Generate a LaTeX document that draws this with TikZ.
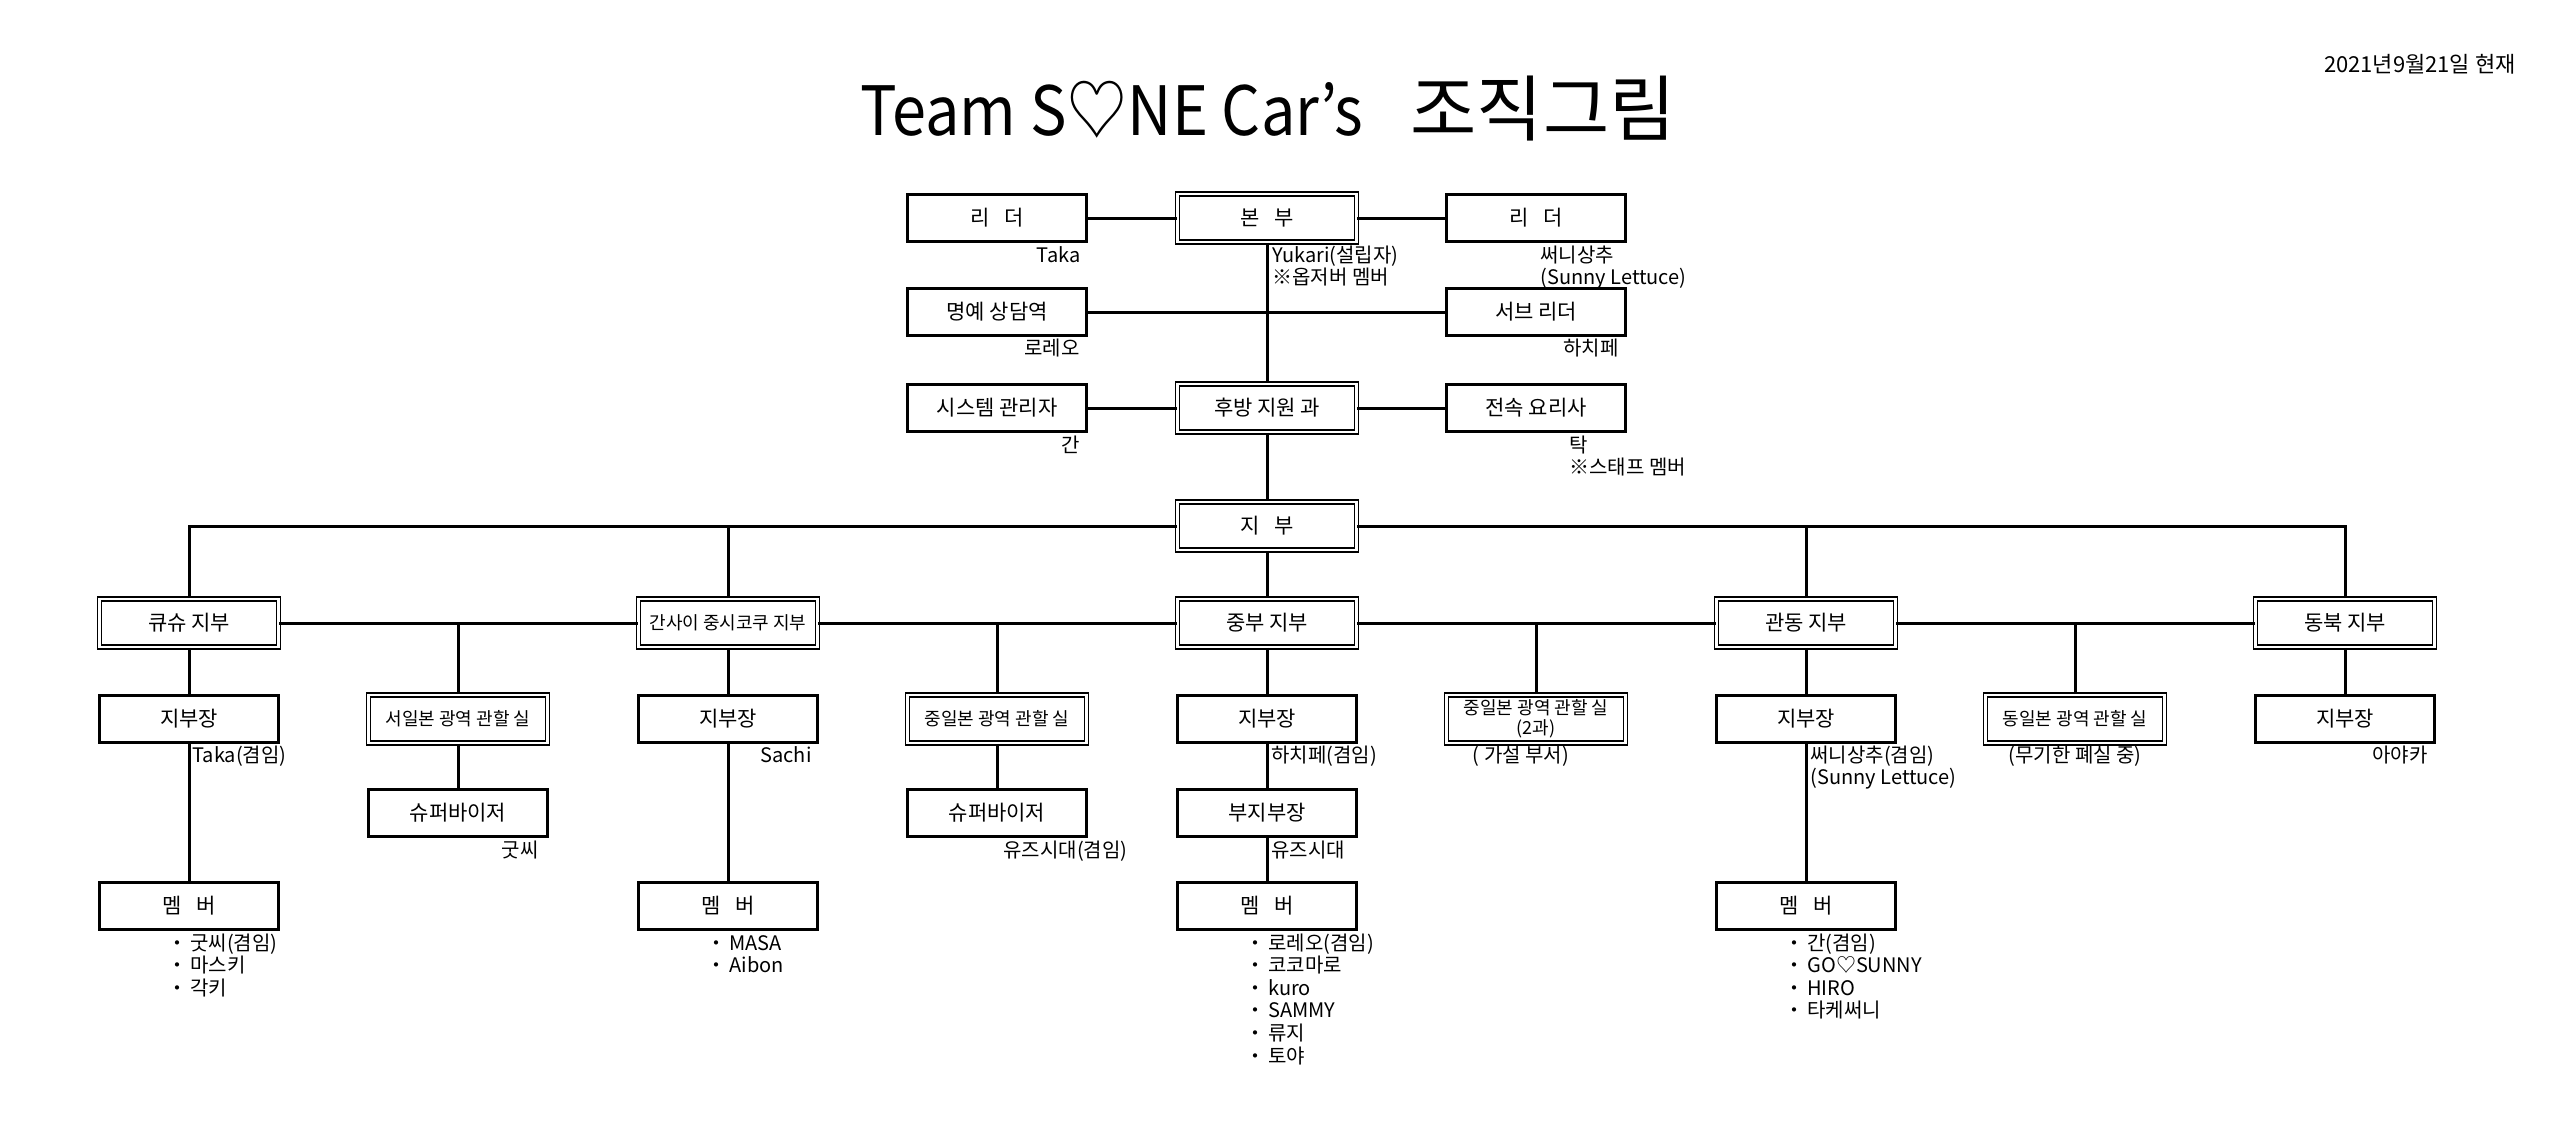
\documentclass[tikz,border=0pt]{standalone}
\usepackage{fontspec}
\setmainfont{Noto Sans CJK KR}
\begin{document}
\begin{tikzpicture}[x=0.5pt,y=-0.5pt,
  box/.style={draw, line width=1.5pt, minimum width=89.5pt, minimum height=23.5pt, inner sep=0pt, font=\fontsize{10.5}{12}\selectfont},
  dbox/.style={box, line width=0.9pt, double, double distance=1.1pt, minimum height=24pt},
  small/.style={font=\fontsize{9}{10}\selectfont, align=center},
  conn/.style={line width=1.5pt},
  lbl/.style={inner sep=0pt, font=\fontsize{10}{11}\selectfont},
  memtxt/.style={inner sep=0pt, font=\fontsize{10}{11}\selectfont, anchor=base west}
]
\useasboundingbox (0,0) rectangle (2560,1135);

% title and date
\node[anchor=base west, inner sep=0pt, font=\fontsize{34}{40}\selectfont] (title) at (860,135) {\scalebox{0.9}[1]{Team S♡NE Car’s}\hspace{24pt}{\fontsize{36}{40}\selectfont 조직그림}};
\node[anchor=base east, inner sep=0pt, font=\fontsize{11}{13}\selectfont] (date) at (2516,72) {2021년9월21일 현재};

% top rows
\node[box] (leader1) at (997,218) {리\hspace{0.7em}더};
\node[dbox] (bonbu) at (1267,218) {본\hspace{0.7em}부};
\node[box] (leader2) at (1536,218) {리\hspace{0.7em}더};
\node[box] (honor) at (997,312) {명예 상담역};
\node[box] (subleader) at (1536,312) {서브 리더};
\node[box] (sysadmin) at (997,408) {시스템 관리자};
\node[dbox] (hubang) at (1267,408) {후방 지원 과};
\node[box] (cook) at (1536,408) {전속 요리사};
\node[dbox] (jibu) at (1267,526) {지\hspace{0.7em}부};

% branches
\node[dbox] (kyushu) at (189,623) {큐슈 지부};
\node[dbox, small] (kansai) at (728,623) {간사이 중시코쿠 지부};
\node[dbox] (chubu) at (1267,623) {중부 지부};
\node[dbox] (kanto) at (1806,623) {관동 지부};
\node[dbox] (tohoku) at (2345,623) {동북 지부};

% row 6
\node[box] (head0) at (189,719) {지부장};
\node[dbox, small] (west) at (458,719) {서일본 광역 관할 실};
\node[box] (head2) at (728,719) {지부장};
\node[dbox, small] (midA) at (997,719) {중일본 광역 관할 실};
\node[box] (head4) at (1267,719) {지부장};
\node[dbox, small] (midB) at (1536,719) {중일본 광역 관할 실\\(2과)};
\node[box] (head6) at (1806,719) {지부장};
\node[dbox, small] (east) at (2075,719) {동일본 광역 관할 실};
\node[box] (head8) at (2345,719) {지부장};

% row 7
\node[box] (sv1) at (458,813) {슈퍼바이저};
\node[box] (sv3) at (997,813) {슈퍼바이저};
\node[box] (sub4) at (1267,813) {부지부장};

% row 8
\node[box] (mem0) at (189,906) {멤\hspace{0.7em}버};
\node[box] (mem2) at (728,906) {멤\hspace{0.7em}버};
\node[box] (mem4) at (1267,906) {멤\hspace{0.7em}버};
\node[box] (mem6) at (1806,906) {멤\hspace{0.7em}버};

% connectors
\draw[conn] (leader1) -- (bonbu) -- (leader2);
\draw[conn] (honor) -- (subleader);
\draw[conn] (sysadmin) -- (hubang) -- (cook);
\draw[conn] (bonbu) -- (hubang) -- (jibu) -- (chubu);
\draw[conn] (kyushu) |- (jibu);
\draw[conn] (kansai) |- (jibu);
\draw[conn] (kanto) |- (jibu);
\draw[conn] (tohoku) |- (jibu);
\draw[conn] (kyushu) -- (kansai) -- (chubu) -- (kanto) -- (tohoku);
\draw[conn] (west) -- (west |- kyushu);
\draw[conn] (midA) -- (midA |- kyushu);
\draw[conn] (midB) -- (midB |- kyushu);
\draw[conn] (east) -- (east |- kyushu);
\draw[conn] (kyushu) -- (head0) -- (mem0);
\draw[conn] (kansai) -- (head2) -- (mem2);
\draw[conn] (chubu) -- (head4) -- (sub4) -- (mem4);
\draw[conn] (kanto) -- (head6) -- (mem6);
\draw[conn] (tohoku) -- (head8);
\draw[conn] (west) -- (sv1);
\draw[conn] (midA) -- (sv3);

% labels
\node[lbl, anchor=base east] (lTaka) at (1081,262) {Taka};
\node[lbl, anchor=base west] (lYukari) at (1272,262) {Yukari(설립자)};
\node[lbl, anchor=base west] (lObs) at (1272,284) {※옵저버 멤버};
\node[lbl, anchor=base west] (lSunny) at (1540,262) {써니상추};
\node[lbl, anchor=base west] (lSunnyEn) at (1540,284) {(Sunny Lettuce)};
\node[lbl, anchor=base east] (lRomeo) at (1080,355) {로레오};
\node[lbl, anchor=base east] (lHachi) at (1619,355) {하치페};
\node[lbl, anchor=base east] (lKan) at (1080,452) {간};
\node[lbl, anchor=base west] (lTak) at (1569,452) {탁};
\node[lbl, anchor=base west] (lStaff) at (1569,474) {※스태프 멤버};
\node[lbl, anchor=base west] (lTaka2) at (192,762) {Taka(겸임)};
\node[lbl, anchor=base east] (lSachi) at (812,762) {Sachi};
\node[lbl, anchor=base west] (lHachi2) at (1271,762) {하치페(겸임)};
\node[lbl, anchor=base] (lKasetsu) at (1521,762) {( 가설 부서)};
\node[lbl, anchor=base west] (lSunny2) at (1810,762) {써니상추(겸임)};
\node[lbl, anchor=base west] (lSunny2En) at (1810,784) {(Sunny Lettuce)};
\node[lbl, anchor=base] (lClosed) at (2075,762) {(무기한 폐실 중)};
\node[lbl, anchor=base east] (lAyaka) at (2428,762) {아야카};
\node[lbl, anchor=base east] (lGut) at (539,857) {굿씨};
\node[lbl, anchor=base west] (lYuzu1) at (1003,857) {유즈시대(겸임)};
\node[lbl, anchor=base west] (lYuzu2) at (1271,857) {유즈시대};

% member lists
\foreach \t [count=\i from 0] in {굿씨(겸임),마스키,각키}
  \node[memtxt] (ma\i) at (167,950+22.6*\i) {・\hspace{1.5pt}\t};
\foreach \t [count=\i from 0] in {MASA,Aibon}
  \node[memtxt] (mb\i) at (706,950+22.6*\i) {・\hspace{1.5pt}\t};
\foreach \t [count=\i from 0] in {로레오(겸임),코코마로,kuro,SAMMY,류지,토야}
  \node[memtxt] (mc\i) at (1245,950+22.6*\i) {・\hspace{1.5pt}\t};
\foreach \t [count=\i from 0] in {간(겸임),GO♡SUNNY,HIRO,타케써니}
  \node[memtxt] (md\i) at (1784,950+22.6*\i) {・\hspace{1.5pt}\t};
\end{tikzpicture}
\end{document}
